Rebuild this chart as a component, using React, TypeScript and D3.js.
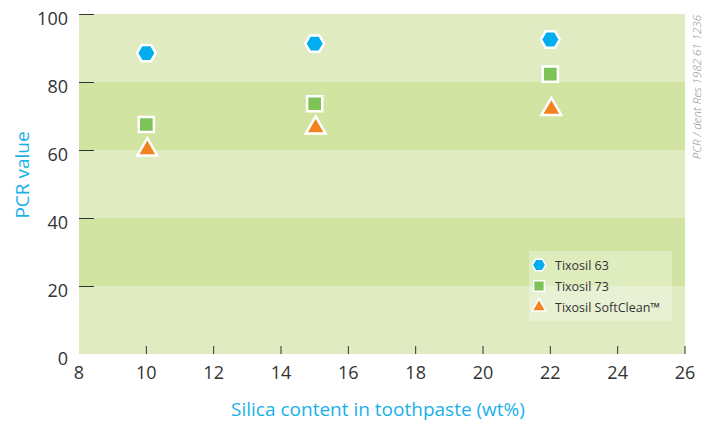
import * as d3 from 'd3';
import React, { useRef, useEffect } from 'react';

const silica = [10, 15, 22];
const tixosil63 = [88.5, 91.3, 92.5];
const tixosil73 = [67.5, 73.6, 82.3];
const softClean = [60.1, 66.5, 72];
const seriesNames = ['Tixosil 63', 'Tixosil 73', 'Tixosil SoftClean™'];
const xTicks = [8, 10, 12, 14, 16, 18, 20, 22, 24, 26];
const yTicks = [0, 20, 40, 60, 80, 100];
const bands = [[0, 20], [20, 40], [40, 60], [60, 80], [80, 100]];

const hexagon = {
  draw(context: any, size: number) {
    const r = Math.sqrt(size / 2.598);
    for (let i = 0; i < 6; i++) {
      const a = (Math.PI / 3) * i;
      const x = r * Math.cos(a), y = r * Math.sin(a);
      if (i === 0) context.moveTo(x, y); else context.lineTo(x, y);
    }
    context.closePath();
  },
};

const App = () => {
  const ref = useRef<SVGSVGElement>(null);
  const width = 712, height = 421;

  useEffect(() => {
    const svg = d3.select(ref.current);
    svg.selectAll('*').remove();

    const font = "'Open Sans', sans-serif";
    const x = d3.scaleLinear().domain([8, 26]).range([79, 685]);
    const y = d3.scaleLinear().domain([0, 100]).range([354, 14]);

    svg.append('g').selectAll('rect')
      .data(bands)
      .enter()
      .append('rect')
      .attr('x', x(8))
      .attr('width', x(26) - x(8))
      .attr('y', d => y(d[1]))
      .attr('height', d => y(d[0]) - y(d[1]))
      .attr('fill', (_, i) => (i % 2 === 0 ? '#e0ebc2' : '#d2e4a1'));

    // y ticks
    const yg = svg.append('g');
    yg.selectAll('line')
      .data(yTicks.filter(t => t > 0))
      .enter()
      .append('line')
      .attr('x1', x(8)).attr('x2', x(8) + 15)
      .attr('y1', d => y(d) + 0.5).attr('y2', d => y(d) + 0.5)
      .attr('stroke', '#333').attr('stroke-width', 1);
    yg.selectAll('text')
      .data(yTicks)
      .enter()
      .append('text')
      .attr('x', 68)
      .attr('y', d => y(d) + 10.5)
      .attr('text-anchor', 'end')
      .style('font-family', font).style('font-size', '18px')
      .attr('fill', '#333')
      .text(d => d);

    // x ticks
    const xg = svg.append('g');
    xg.selectAll('line')
      .data(xTicks.filter(t => t > 8))
      .enter()
      .append('line')
      .attr('x1', d => x(d)).attr('x2', d => x(d))
      .attr('y1', y(0)).attr('y2', y(0) - 8)
      .attr('stroke', '#333').attr('stroke-width', 1);
    xg.selectAll('text')
      .data(xTicks)
      .enter()
      .append('text')
      .attr('x', d => x(d))
      .attr('y', 379)
      .attr('text-anchor', 'middle')
      .style('font-family', font).style('font-size', '18px')
      .attr('fill', '#333')
      .text(d => d);

    svg.append('text')
      .attr('transform', `translate(29, 175) rotate(-90)`)
      .attr('text-anchor', 'middle')
      .style('font-family', font).style('font-size', '19px')
      .attr('fill', '#1ab0e8')
      .text('PCR value');

    svg.append('text')
      .attr('x', 378)
      .attr('y', 416)
      .attr('text-anchor', 'middle')
      .style('font-family', font).style('font-size', '19px')
      .attr('fill', '#1ab0e8')
      .text('Silica content in toothpaste (wt%)');

    svg.append('text')
      .attr('transform', `translate(701, 15) rotate(-90)`)
      .attr('text-anchor', 'end')
      .style('font-family', font).style('font-size', '11.5px').style('font-style', 'italic').style('font-weight', 300)
      .attr('fill', '#8c8c8c')
      .text('PCR / dent Res 1982 61 1236');

    const series = [
      { values: tixosil63, type: hexagon, size: 230, color: '#00aeef', dx: 0 },
      { values: tixosil73, type: d3.symbolSquare, size: 230, color: '#7dc356', dx: 0 },
      { values: softClean, type: d3.symbolTriangle, size: 170, color: '#f58220', dx: 1 },
    ];

    series.forEach(s => {
      svg.append('g').selectAll('path')
        .data(s.values)
        .enter()
        .append('path')
        .attr('d', d3.symbol().type(s.type as any).size(s.size)())
        .attr('transform', (d, i) => `translate(${x(silica[i]) + s.dx}, ${y(d)})`)
        .attr('fill', s.color)
        .attr('stroke', '#fff')
        .attr('stroke-width', 2.5);
    });

    // legend
    const lg = svg.append('g').attr('transform', 'translate(529, 251)');
    lg.append('rect')
      .attr('width', 143).attr('height', 70)
      .attr('fill', '#ffffff').attr('fill-opacity', 0.3);
    series.forEach((s, i) => {
      lg.append('path')
        .attr('d', d3.symbol().type(s.type as any).size(s.size * 0.5)())
        .attr('transform', `translate(10, ${14 + i * 21})`)
        .attr('fill', s.color)
        .attr('stroke', '#fff')
        .attr('stroke-width', 1.5);
      lg.append('text')
        .attr('x', 26)
        .attr('y', 14 + i * 21 + 4.5)
        .style('font-family', font).style('font-size', '12.5px')
        .attr('fill', '#333')
        .text(seriesNames[i]);
    });
  }, []);

  return <svg width={width} height={height} ref={ref} style={{ position: 'absolute', left: 0, top: 0 }} />;
};

export default App;
